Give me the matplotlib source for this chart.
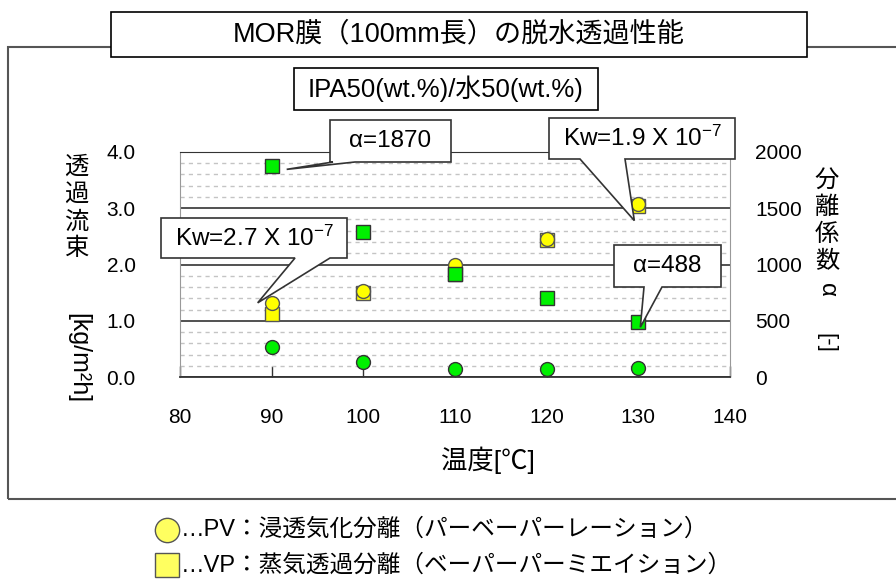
"""
MOR membrane dehydration performance chart (PV / VP flux and separation factor).
"""

# import libraries
import matplotlib
matplotlib.use("Agg")
import matplotlib.pyplot as plt
from matplotlib.patches import Rectangle, Polygon

plt.rcParams['font.family'] = ['Liberation Sans', 'Noto Sans CJK JP', 'DejaVu Sans']
plt.rcParams['mathtext.fontset'] = 'custom'
plt.rcParams['mathtext.rm'] = 'Liberation Sans'
plt.rcParams['mathtext.it'] = 'Liberation Sans'

# data
temps = [90, 100, 110, 120, 130]
flux_pv = [1.32, 1.53, 2.00, 2.45, 3.08]      # yellow circles [kg/m2h]
flux_vp = [1.12, 1.49, 1.84, 2.43, 3.03]      # yellow squares [kg/m2h]
alpha_pv = [265, 140, 75, 76, 85]             # green circles [-]
alpha_vp = [1870, 1288, 918, 706, 488]        # green squares [-]

x_ticks = [80, 90, 100, 110, 120, 130, 140]
y_ticks = [0.0, 1.0, 2.0, 3.0, 4.0]
y2_ticks = [0, 500, 1000, 1500, 2000]

title = "MOR膜（100mm長）の脱水透過性能"
subtitle = "IPA50(wt.%)/水50(wt.%)"
legend_pv = "…PV：浸透気化分離（パーベーパーレーション）"
legend_vp = "…VP：蒸気透過分離（ベーパーパーミエイション）"

W, H = 896, 579


def fx(x):
    return x / W


def fy(y):
    return 1 - y / H


fig = plt.figure(figsize=(W / 100, H / 100), dpi=100)

# outer frame (right side runs off the picture)
fig.patches.append(Rectangle((fx(8), fy(499)), fx(900), (499 - 47) / H,
                             transform=fig.transFigure, fill=False,
                             edgecolor='#555555', lw=1.5))

# title boxes
for (x0, y0, x1, y1, txt, fs) in [(111, 12, 807, 57, title, 19.5),
                                  (294, 68, 598, 110, subtitle, 18.5)]:
    fig.patches.append(Rectangle((fx(x0), fy(y1)), (x1 - x0) / W, (y1 - y0) / H,
                                 transform=fig.transFigure, facecolor='white',
                                 edgecolor='black', lw=1.2, zorder=3))
    fig.text(fx((x0 + x1) / 2), fy((y0 + y1) / 2), txt, ha='center', va='center',
             fontsize=fs, zorder=4)

# plot area
ax = fig.add_axes([fx(180), fy(377.3), (730 - 180) / W, (377.3 - 151.7) / H])
ax.set_xlim(80, 140)
ax.set_ylim(0, 4)
ax.set_xticks(x_ticks)
ax.set_yticks(y_ticks)
ax.set_yticks([i * 0.2 for i in range(21)], minor=True)
ax.set_xticklabels([str(t) for t in x_ticks])
ax.set_yticklabels([f"{t:.1f}" for t in y_ticks])
ax.grid(True, which='minor', axis='y', color='#c4c4c4', ls=(0, (3, 3)), lw=1)
ax.grid(True, which='major', axis='y', color='#333333', ls='-', lw=1.2)
ax.set_axisbelow(True)
ax.tick_params(axis='x', direction='in', length=8, width=1, color='#333333',
               labelsize=15, pad=22)
ax.tick_params(axis='y', which='both', length=0, labelsize=15, pad=32)
ax.spines['left'].set_color('#999999')
ax.spines['right'].set_color('#999999')
ax.spines['top'].set_color('#333333')
ax.spines['bottom'].set_color('#333333')
ax.spines['bottom'].set_linewidth(1.3)

ax.plot(temps, flux_vp, ls='none', marker='s', ms=10.5, mfc='#ffff00',
        mec='#555555', mew=1, clip_on=False)
ax.plot(temps, flux_pv, ls='none', marker='o', ms=10, mfc='#ffff00',
        mec='#555555', mew=1, clip_on=False)

ax2 = ax.twinx()
ax2.set_ylim(0, 2000)
ax2.set_yticks(y2_ticks)
ax2.set_yticklabels([str(t) for t in y2_ticks])
ax2.tick_params(axis='y', length=0, labelsize=15, pad=18)
for s in ax2.spines.values():
    s.set_visible(False)
ax2.plot(temps, alpha_vp, ls='none', marker='s', ms=10.5, mfc='#00f000',
         mec='#333333', mew=1, clip_on=False)
ax2.plot(temps, alpha_pv, ls='none', marker='o', ms=10, mfc='#00f000',
         mec='#333333', mew=1, clip_on=False)

# axis labels
fig.text(fx(488), fy(460), "温度[℃]", ha='center', va='center', fontsize=19)
for i, ch in enumerate("透過流束"):
    fig.text(fx(76), fy(168 + i * 27), ch, ha='center', va='center', fontsize=17.5)
fig.text(fx(78), fy(358), "[kg/m²h]", ha='center', va='center', fontsize=18,
         rotation=-90)
for i, ch in enumerate("分離係数"):
    fig.text(fx(827), fy(181 + i * 27), ch, ha='center', va='center', fontsize=17.5)
fig.text(fx(827), fy(290), "α", ha='center', va='center', fontsize=17.5, rotation=-90)
fig.text(fx(826), fy(343), "[-]", ha='center', va='center', fontsize=16, rotation=-90)


# callouts: box in pixels, wedge tip offset from a data point
def callout(axis, xy, off, box, base, txt):
    dx, dy = axis.transData.transform(xy)
    tip = (dx + off[0], H - dy - off[1])
    x0, y0, x1, y1 = box
    b0, b1 = base
    if tip[1] > y1:
        pts = [(x0, y0), (x1, y0), (x1, y1), (b1, y1), tip, (b0, y1), (x0, y1)]
    else:
        pts = [(x0, y0), (b0, y0), tip, (b1, y0), (x1, y0), (x1, y1), (x0, y1)]
    fig.patches.append(Polygon([(fx(p[0]), fy(p[1])) for p in pts],
                               closed=True, transform=fig.transFigure,
                               facecolor='white', edgecolor='#333333', lw=1.2,
                               zorder=5))
    fig.text(fx((x0 + x1) / 2), fy((y0 + y1) / 2), txt, ha='center', va='center',
             fontsize=17.5, zorder=6)


callout(ax2, (temps[0], alpha_vp[0]), (15, -3), (330, 120, 451, 162), (333, 355),
        "α=1870")
callout(ax, (temps[4], flux_pv[4]), (-4, -17), (549, 118, 735, 159), (580, 625),
        r"Kw=1.9 X 10$^{\mathregular{-7}}$")
callout(ax, (temps[0], flux_pv[0]), (-14, 0), (161, 218, 347, 258), (295, 330),
        r"Kw=2.7 X 10$^{\mathregular{-7}}$")
callout(ax2, (temps[4], alpha_vp[4]), (2, -5), (614, 245, 721, 287), (644, 662),
        "α=488")

# legend below the frame
fig.lines.append(plt.Line2D([fx(167)], [fy(530)], transform=fig.transFigure,
                            ls='none', marker='o', ms=17.5, mfc='#ffff60',
                            mec='#555555', mew=1))
fig.lines.append(plt.Line2D([fx(167)], [fy(565)], transform=fig.transFigure,
                            ls='none', marker='s', ms=17, mfc='#ffff60',
                            mec='#555555', mew=1))
fig.text(fx(181), fy(530), legend_pv, ha='left', va='center', fontsize=17)
fig.text(fx(181), fy(566), legend_vp, ha='left', va='center', fontsize=17)

fig.savefig("out.png", dpi=100)
